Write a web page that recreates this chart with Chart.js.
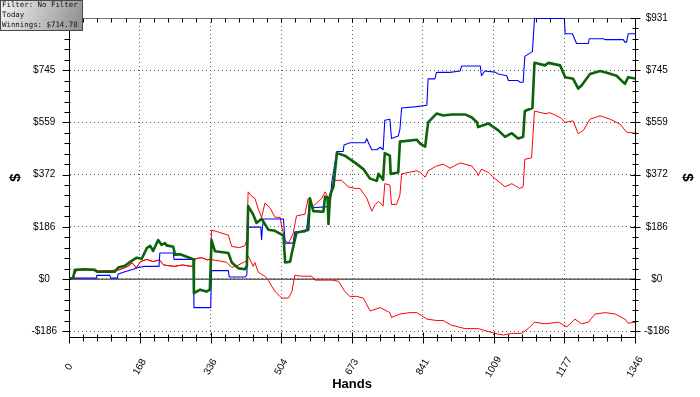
<!DOCTYPE html>
<html>
<head>
<meta charset="utf-8">
<title>Winnings graph</title>
<script src="https://cdn.jsdelivr.net/npm/chart.js@4.4.1/dist/chart.umd.min.js"></script>
<style>
  html, body { margin: 0; padding: 0; background: #fff; }
  canvas { display: block; }
</style>
</head>
<body>
<canvas id="graph" width="700" height="397"></canvas>
<script>
// axis ticks (hands / dollars)
const xTicks = [0, 168.25, 336.5, 504.75, 673, 841.25, 1009.5, 1177.75, 1346];
const xLabels = ['0', '168', '336', '504', '673', '841', '1009', '1177', '1346'];
const yTicks = [-186.2, 0, 186.2, 372.4, 558.6, 744.8, 931];
const yLabels = ['-$186', '$0', '$186', '$372', '$559', '$745', '$931'];

// net won (green)
const greenHands = [
  0, 10, 14, 38, 62, 66, 109, 117, 133, 149,
  161, 173, 185, 193, 200, 212, 220, 228, 232, 248,
  252, 264, 288, 296, 297, 312, 327, 335, 339, 347,
  379, 387, 403, 419, 423, 426, 438, 446, 458, 474,
  490, 510, 514, 526, 530, 541, 569, 573, 581, 605,
  609, 615, 617, 621, 629, 637, 656, 680, 700, 716,
  732, 736, 747, 751, 763, 765, 783, 787, 827, 835,
  847, 854, 874, 890, 910, 942, 958, 970, 973, 997,
  1021, 1037, 1053, 1068, 1080, 1084, 1102, 1107, 1132, 1140,
  1168, 1180, 1199, 1211, 1219, 1239, 1263, 1279, 1302, 1322,
  1330, 1346];
const greenWon = [
  0, 5, 33, 35, 33, 26, 26, 41, 47, 65,
  76, 72, 110, 118, 100, 139, 122, 128, 120, 115,
  87, 88, 75, 70, -50, -38, -45, -38, 139, 99,
  93, 59, 38, 35, 48, 260, 230, 200, 215, 176,
  172, 155, 59, 62, 93, 165, 175, 288, 242, 240,
  294, 290, 196, 300, 330, 449, 440, 415, 392, 358,
  350, 375, 354, 449, 440, 375, 380, 490, 497, 483,
  472, 559, 590, 583, 587, 587, 576, 559, 542, 555,
  530, 507, 520, 501, 507, 599, 610, 771, 762, 771,
  762, 720, 714, 679, 690, 731, 742, 736, 725, 696,
  720, 715];

// all-in EV (blue)
const blueHands = [
  0, 14, 66, 66, 97, 100, 115, 117, 133, 149,
  165, 180, 214, 216, 248, 250, 296, 297, 337, 339,
  379, 381, 419, 423, 426, 456, 458, 460, 463, 510,
  514, 533, 537, 561, 565, 573, 577, 619, 621, 625,
  637, 652, 654, 668, 704, 708, 714, 720, 732, 740,
  747, 751, 763, 767, 783, 787, 791, 827, 851, 854,
  870, 874, 906, 930, 934, 978, 981, 989, 1013, 1021,
  1041, 1045, 1068, 1072, 1080, 1084, 1102, 1107, 1178, 1180,
  1197, 1207, 1235, 1237, 1271, 1275, 1318, 1322, 1326, 1330,
  1346];
const blueEV = [
  0, 3, 3, 13, 13, 3, 3, 18, 26, 33,
  41, 45, 45, 93, 93, 70, 70, -102, -102, 30,
  30, 7, 7, 15, 185, 185, 140, 185, 214, 214,
  128, 128, 168, 168, 175, 283, 254, 258, 275, 346,
  455, 455, 478, 486, 486, 500, 480, 461, 461, 470,
  461, 566, 570, 501, 510, 535, 610, 615, 620, 714,
  714, 737, 737, 742, 760, 760, 725, 742, 738, 731,
  725, 708, 708, 702, 702, 794, 811, 929, 929, 875,
  875, 840, 840, 857, 857, 854, 854, 845, 845, 875,
  875];

// both red lines share the first stretch
const redStartHands = [0, 8, 18, 40, 70, 100, 120, 140, 150, 160, 170, 185, 200, 215, 225, 250, 270, 290, 296, 300, 315, 330, 337];
const redStartVals = [0, 5, 30, 33, 28, 30, 33, 45, 58, 40, 62, 70, 62, 68, 50, 45, 50, 45, 50, 72, 76, 68, 72];

// upper red
const sdHands = [
  339, 350, 379, 387, 405, 418, 423, 426, 435, 442,
  450, 458, 466, 478, 490, 502, 506, 514, 522, 533,
  541, 561, 569, 581, 601, 609, 621, 629, 648, 664,
  680, 692, 700, 708, 720, 728, 736, 747, 751, 763,
  767, 779, 787, 791, 827, 835, 847, 854, 874, 890,
  906, 930, 958, 970, 973, 981, 997, 1013, 1037, 1053,
  1072, 1080, 1084, 1100, 1107, 1132, 1144, 1168, 1180, 1199,
  1211, 1223, 1239, 1263, 1287, 1310, 1326, 1346];
const sdVals = [
  174, 170, 156, 116, 112, 118, 140, 311, 294, 288,
  250, 220, 271, 254, 220, 220, 185, 139, 128, 162,
  225, 231, 288, 260, 288, 311, 276, 352, 352, 329,
  323, 323, 306, 289, 242, 265, 277, 260, 340, 335,
  266, 266, 300, 375, 386, 380, 363, 386, 403, 410,
  395, 414, 403, 380, 369, 392, 380, 358, 329, 340,
  323, 329, 427, 432, 599, 590, 593, 576, 559, 564,
  518, 530, 570, 582, 570, 553, 524, 520];

// lower red
const nsdHands = [
  339, 375, 387, 403, 423, 426, 438, 442, 450, 466,
  474, 490, 506, 522, 530, 537, 553, 577, 585, 625,
  641, 656, 668, 684, 700, 716, 740, 763, 767, 787,
  811, 827, 839, 851, 874, 890, 906, 910, 942, 973,
  1013, 1033, 1053, 1076, 1092, 1107, 1132, 1164, 1184, 1203,
  1219, 1235, 1251, 1275, 1299, 1322, 1330, 1346];
const nsdVals = [
  69, 60, 41, 50, 65, 83, 45, 59, 24, 10,
  -5, -45, -68, -68, -45, 13, 10, 10, -4, -4,
  -8, -45, -62, -62, -68, -114, -102, -120, -137, -125,
  -120, -120, -131, -143, -148, -148, -162, -165, -177, -177,
  -194, -200, -194, -194, -177, -154, -160, -154, -171, -143,
  -160, -154, -125, -120, -125, -143, -158, -154];

const infoLines = ['Filter: No Filter', 'Today', 'Winnings: $714.78'];

function pts(hands, vals) {
  return hands.map((h, i) => ({ x: h, y: vals[i] }));
}

Chart.defaults.font.family = '"Liberation Sans", Arial, sans-serif';
Chart.defaults.color = '#000';

// zero line, top border, tick marks, rotated hand labels, info box
const frame = {
  id: 'frame',
  beforeDatasetsDraw(chart) {
    const { ctx, chartArea: a } = chart;
    const y0 = Math.round(chart.scales.y.getPixelForValue(0));
    ctx.save();
    ctx.strokeStyle = '#666';
    ctx.lineWidth = 1.6;
    ctx.beginPath();
    ctx.moveTo(a.left, y0 + 0.3);
    ctx.lineTo(a.right, y0 + 0.3);
    ctx.stroke();
    ctx.lineWidth = 1;
    ctx.strokeStyle = '#707070';
    ctx.beginPath();
    ctx.moveTo(a.left, Math.round(a.top) + 0.5);
    ctx.lineTo(a.right, Math.round(a.top) + 0.5);
    ctx.stroke();
    ctx.restore();
  },
  afterDraw(chart) {
    const { ctx, chartArea: a, scales: { x, y } } = chart;
    const L = Math.round(a.left) + 0.5, R = Math.round(a.right) - 0.5;
    const B = Math.round(a.bottom) + 0.5, T = Math.round(a.top) + 0.5;
    ctx.save();
    ctx.strokeStyle = '#000';
    ctx.lineWidth = 1;
    ctx.beginPath();
    const seg = (x1, y1, x2, y2) => { ctx.moveTo(x1, y1); ctx.lineTo(x2, y2); };

    // y ticks, 5 steps between labels
    for (let i = 0; i < yTicks.length; i++) {
      const steps = i < yTicks.length - 1 ? 5 : 1;
      for (let k = 0; k < steps; k++) {
        const v = yTicks[i] + k * (i < yTicks.length - 1 ? (yTicks[i + 1] - yTicks[i]) / 5 : 0);
        const py = Math.round(y.getPixelForValue(v)) + 0.5;
        const major = k === 0;
        seg(L - (major ? 7 : 5), py, L + 1, py);
        seg(R - (major ? 4 : 2), py, R + (major ? 6 : 4), py);
      }
    }
    // x ticks, bottom and top
    for (let i = 0; i < xTicks.length; i++) {
      const steps = i < xTicks.length - 1 ? 5 : 1;
      for (let k = 0; k < steps; k++) {
        const v = xTicks[i] + k * (i < xTicks.length - 1 ? (xTicks[i + 1] - xTicks[i]) / 5 : 0);
        const px = Math.round(x.getPixelForValue(v)) + 0.5;
        const major = k === 0;
        seg(px, B - (major ? 5 : 3), px, B + (major ? 6 : 4));
        seg(px, T, px, T + 4);
      }
    }
    ctx.stroke();

    // rotated hand labels
    ctx.font = '10px "Liberation Sans", Arial, sans-serif';
    ctx.fillStyle = '#000';
    ctx.textAlign = 'center';
    ctx.textBaseline = 'middle';
    xTicks.forEach((v, i) => {
      ctx.save();
      ctx.translate(x.getPixelForValue(v), a.bottom + 30);
      ctx.rotate(-Math.PI / 3);
      ctx.fillText(xLabels[i], 0, 0);
      ctx.restore();
    });

    // filter / winnings box
    const g = ctx.createLinearGradient(0, 0, 82, 30);
    g.addColorStop(0, '#f4f4f4');
    g.addColorStop(1, '#8e8e8e');
    ctx.fillStyle = g;
    ctx.fillRect(0, 0, 83, 31);
    ctx.strokeStyle = '#4a4a4a';
    ctx.strokeRect(0.5, 0.5, 82, 30);
    ctx.fillStyle = '#111';
    ctx.font = '7.4px "DejaVu Sans Mono", "Liberation Mono", monospace';
    ctx.textAlign = 'left';
    infoLines.forEach((t, i) => ctx.fillText(t, 2, 5.5 + i * 9.8));
    ctx.restore();
  }
};

const dotted = { color: '#5a5a5a', lineWidth: 1, drawTicks: false };

new Chart(document.getElementById('graph'), {
  type: 'line',
  data: {
    datasets: [
      { label: 'Net won', data: pts(greenHands, greenWon), borderColor: '#0b640b', borderWidth: 2.6 },
      { label: 'All-in EV', data: pts(blueHands, blueEV), borderColor: '#0000ff', borderWidth: 1.1 },
      { label: 'Showdown', data: pts(redStartHands.concat(sdHands), redStartVals.concat(sdVals)), borderColor: '#ff0000', borderWidth: 1 },
      { label: 'Non-showdown', data: pts(redStartHands.concat(nsdHands), redStartVals.concat(nsdVals)), borderColor: '#ff0000', borderWidth: 1 }
    ]
  },
  options: {
    responsive: false,
    animation: false,
    events: [],
    layout: { padding: { top: 7, left: 0, right: 0, bottom: 0 } },
    elements: { point: { radius: 0 }, line: { tension: 0, fill: false, borderJoinStyle: 'round' } },
    plugins: { legend: { display: false }, tooltip: { enabled: false } },
    scales: {
      x: {
        type: 'linear',
        min: 0,
        max: 1346,
        afterBuildTicks: s => { s.ticks = xTicks.map(v => ({ value: v })); },
        afterFit: s => { s.height = 60; },
        ticks: { display: false },
        grid: dotted,
        border: { display: true, color: '#000', width: 1, dash: [1, 3] },
        title: { display: true, text: 'Hands', font: { size: 13, weight: 'bold' }, padding: { top: 4, bottom: 5 } }
      },
      y: {
        type: 'linear',
        position: 'left',
        min: -206.9,
        max: 931,
        afterBuildTicks: s => { s.ticks = yTicks.map(v => ({ value: v })); },
        afterFit: s => { s.width = 69; },
        ticks: { callback: (v, i) => yLabels[i], font: { size: 10 }, crossAlign: 'center', padding: 12 },
        grid: dotted,
        border: { display: true, color: '#000', width: 1, dash: [1, 3] },
        title: { display: true, text: '$', font: { size: 15, weight: 'bold' }, padding: { top: 7, bottom: 0 } }
      },
      y2: {
        type: 'linear',
        position: 'right',
        min: -206.9,
        max: 931,
        afterBuildTicks: s => { s.ticks = yTicks.map(v => ({ value: v })); },
        afterFit: s => { s.width = 65; },
        ticks: { callback: (v, i) => yLabels[i], font: { size: 10 }, crossAlign: 'center', padding: 9 },
        grid: { drawOnChartArea: false, drawTicks: false },
        border: { display: true, color: '#000', width: 1 },
        title: { display: true, text: '$', font: { size: 15, weight: 'bold' }, padding: { top: 4, bottom: 0 } }
      }
    }
  },
  plugins: [frame]
});
</script>
</body>
</html>
